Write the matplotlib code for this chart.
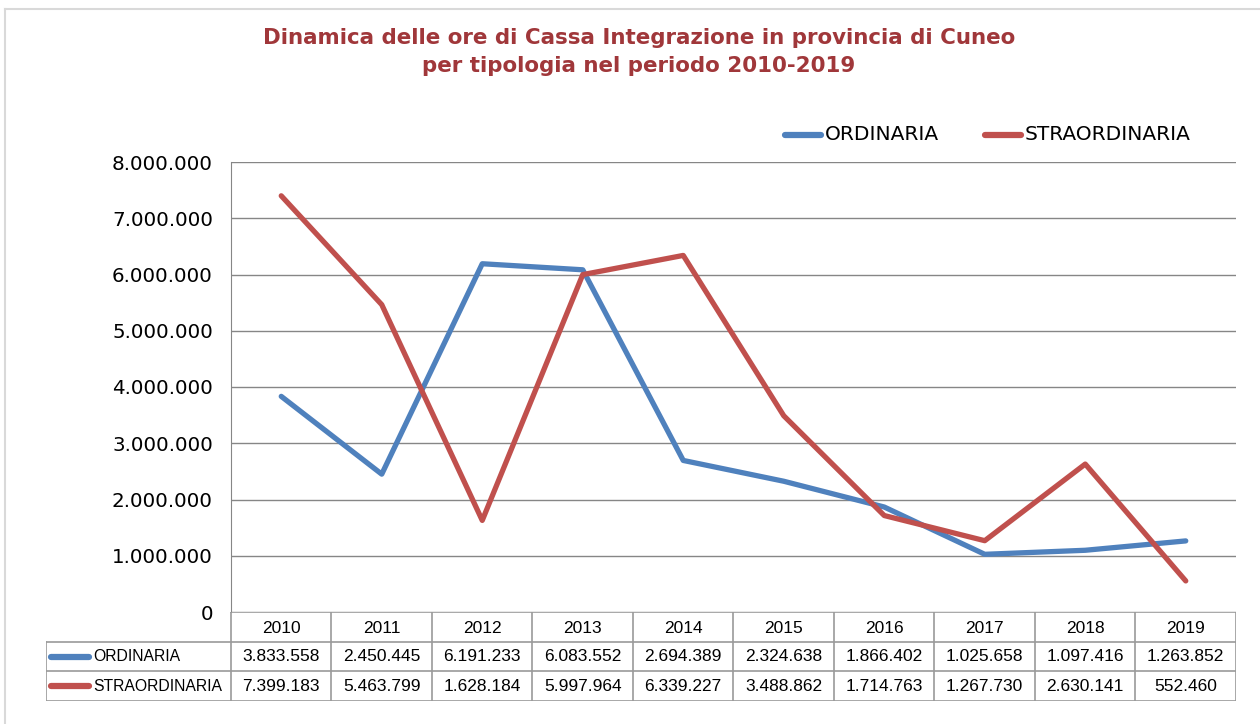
import matplotlib
matplotlib.use('Agg')
import matplotlib.pyplot as plt
from matplotlib.lines import Line2D
import numpy as np

years = ['2010', '2011', '2012', '2013', '2014', '2015', '2016', '2017', '2018', '2019']
ordinaria = [3833558, 2450445, 6191233, 6083552, 2694389, 2324638, 1866402, 1025658, 1097416, 1263852]
straordinaria = [7399183, 5463799, 1628184, 5997964, 6339227, 3488862, 1714763, 1267730, 2630141, 552460]
series_names = ['ORDINARIA', 'STRAORDINARIA']
colors = ['#4F81BD', '#C0504D']
title = 'Dinamica delle ore di Cassa Integrazione in provincia di Cuneo\nper tipologia nel periodo 2010-2019'


def fmt_it(v):
    return f'{v:,.0f}'.replace(',', '.')


W, H = 1260, 724
fig = plt.figure(figsize=(W / 100, H / 100), dpi=100)
fig.patch.set_facecolor('white')

# outer chart border (left and top visible)
fig.add_artist(Line2D([5 / W, 5 / W], [0, 1 - 9 / H], color='#d9d9d9', lw=1.5))
fig.add_artist(Line2D([5 / W, 1], [1 - 9 / H, 1 - 9 / H], color='#d9d9d9', lw=1.5))

# main plot area
x0, x1, ytop, ybot = 231, 1236, 162, 612
ax = fig.add_axes([x0 / W, 1 - ybot / H, (x1 - x0) / W, (ybot - ytop) / H])
x = np.arange(len(years))
for vals, c in zip([ordinaria, straordinaria], colors):
    ax.plot(x, vals, color=c, lw=3.8, solid_capstyle='round', solid_joinstyle='round', zorder=3)
ax.set_xlim(-0.5, len(years) - 0.5)
ax.set_ylim(0, 8000000)
ax.set_yticks(np.arange(0, 8000001, 1000000))
ax.set_yticklabels([fmt_it(v) for v in np.arange(0, 8000001, 1000000)], fontsize=14.3)
ax.set_xticks([])
ax.yaxis.grid(True, color='#868686', lw=1)
ax.set_axisbelow(True)
for s in ['top', 'right', 'bottom']:
    ax.spines[s].set_visible(False)
ax.spines['left'].set_color('#868686')
ax.tick_params(axis='y', length=0, pad=13)

fig.text(0.507, 1 - 52 / H, title, ha='center', va='center', fontsize=15.4,
         fontweight='bold', color='#A0373A', linespacing=1.45)

# legend at top right
lx = [785, 985]
for xi, name, c in zip(lx, series_names, colors):
    fig.add_artist(Line2D([xi / W, (xi + 36) / W], [1 - 135 / H] * 2, color=c, lw=4.5,
                          solid_capstyle='round'))
    fig.text((xi + 40) / W, 1 - 135 / H, name, ha='left', va='center', fontsize=14.5)

# data table below the plot
tl, tt, tb = 46, 612, 701
tax = fig.add_axes([tl / W, 1 - tb / H, (x1 - tl) / W, (tb - tt) / H])
col_w = (x1 - x0) / len(years)
lab_w = (x0 - tl) / col_w
tax.set_xlim(-0.5 - lab_w, len(years) - 0.5)
tax.set_ylim(3, 0)
tax.axis('off')
gc = '#9a9a9a'
# horizontal lines
tax.plot([-0.5, len(years) - 0.5], [0, 0], color=gc, lw=1.2)
for yy in [1, 2, 3]:
    tax.plot([-0.5 - lab_w, len(years) - 0.5], [yy, yy], color=gc, lw=1.2)
# vertical lines
for i in range(len(years) + 1):
    tax.plot([i - 0.5, i - 0.5], [0, 3], color=gc, lw=1.2)
tax.plot([-0.5 - lab_w] * 2, [1, 3], color=gc, lw=1.2)
tfont = dict(fontsize=12.5, family=['Liberation Sans', 'DejaVu Sans'])
for i, yr in enumerate(years):
    tax.text(i, 0.55, yr, ha='center', va='center', **tfont)
for r, (vals, name, c) in enumerate(zip([ordinaria, straordinaria], series_names, colors)):
    yy = r + 1.5
    tax.plot([-0.5 - lab_w + 0.05, -0.5 - lab_w + 0.43], [yy, yy], color=c, lw=4.5,
             solid_capstyle='round')
    tax.text(-0.5 - lab_w + 0.47, yy, name, ha='left', va='center',
             fontsize=11.3, family=['Liberation Sans', 'DejaVu Sans'])
    for i, v in enumerate(vals):
        tax.text(i, yy, fmt_it(v), ha='center', va='center', **tfont)

fig.savefig('out.png', dpi=100)
